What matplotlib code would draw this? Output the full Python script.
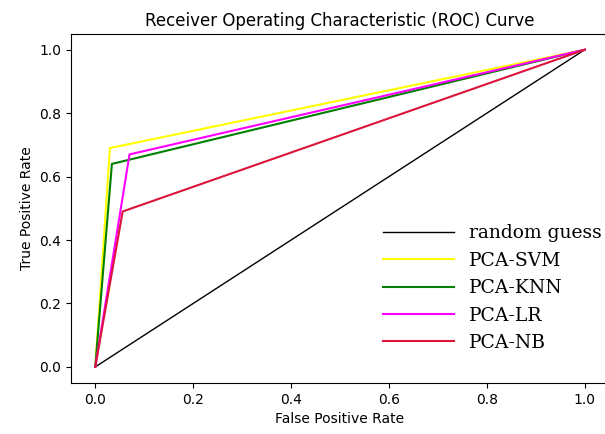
import matplotlib
matplotlib.use("Agg")
import matplotlib.pyplot as plt

# operating points (fpr, tpr) for each classifier
models = ["PCA-SVM", "PCA-KNN", "PCA-LR", "PCA-NB"]
fpr_mid = [0.03, 0.034, 0.07, 0.056]
tpr_mid = [0.69, 0.64, 0.67, 0.49]
colors = ["yellow", "green", "magenta", "crimson"]

fig = plt.figure(figsize=(6.05, 4.34), dpi=100)
ax = fig.add_axes([0.117, 0.118, 0.89, 0.804])

ax.plot([0, 1], [0, 1], color="black", lw=1, label="random guess")
for name, fx, ty, c in zip(models, fpr_mid, tpr_mid, colors):
    ax.plot([0, fx, 1], [0, ty, 1], color=c, lw=1.5, label=name)

ax.set_xlim(-0.05, 1.05)
ax.set_ylim(-0.05, 1.05)
ax.spines["right"].set_visible(False)
ax.set_xlabel("False Positive Rate")
ax.set_ylabel("True Positive Rate")
ax.set_title("Receiver Operating Characteristic (ROC) Curve")
ax.legend(loc="lower right", frameon=False, prop={"family": "DejaVu Serif", "size": 13.5},
          bbox_to_anchor=(1.018, 0.04), labelspacing=0.5, handlelength=3.8)

fig.savefig("out.png", dpi=100)
